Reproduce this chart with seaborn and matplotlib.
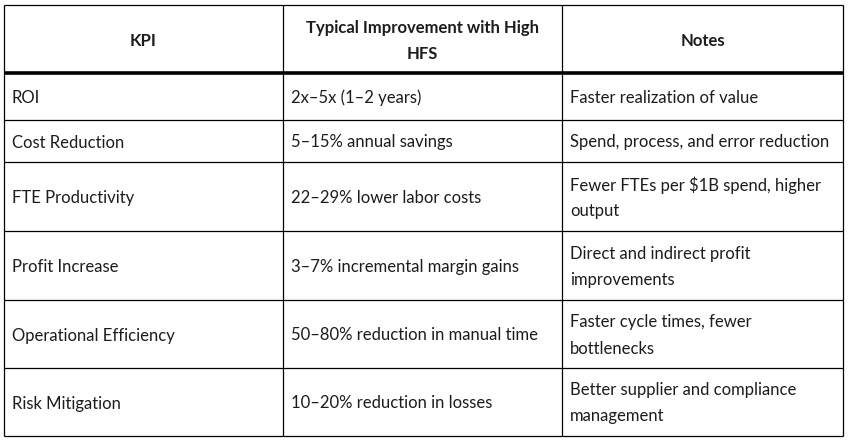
import matplotlib
matplotlib.use("Agg")
import matplotlib.pyplot as plt
import seaborn as sns

# table content
headers = [["KPI"], ["Typical Improvement with High", "HFS"], ["Notes"]]
kpi = ["ROI", "Cost Reduction", "FTE Productivity", "Profit Increase",
       "Operational Efficiency", "Risk Mitigation"]
improvement = ["2x\u20135x (1\u20132 years)", "5\u201315% annual savings",
               "22\u201329% lower labor costs", "3\u20137% incremental margin gains",
               "50\u201380% reduction in manual time", "10\u201320% reduction in losses"]
notes = [["Faster realization of value"],
         ["Spend, process, and error reduction"],
         ["Fewer FTEs per $1B spend, higher", "output"],
         ["Direct and indirect profit", "improvements"],
         ["Faster cycle times, fewer", "bottlenecks"],
         ["Better supplier and compliance", "management"]]

# layout in pixels
col_edges = [4, 283, 562, 843]
row_edges = [5, 73, 120, 162, 231, 300, 368, 436]
pad = 8
line_h = 26
y_shift = 1.5

sns.set_theme(style="white")
plt.rcParams['font.family'] = ['Lato', 'DejaVu Sans']

fig = plt.figure(figsize=(8.49, 4.43), dpi=100)
ax = fig.add_axes([0, 0, 1, 1])
ax.set_xlim(0, 849)
ax.set_ylim(443, 0)
ax.axis("off")

txt = "#1c1c1c"
fs = 12

# grid lines
ax.vlines(col_edges, row_edges[0], row_edges[-1], color="black", lw=0.9)
for i, y in enumerate(row_edges):
    ax.hlines(y, col_edges[0], col_edges[-1], color="black",
              lw=2.6 if i == 1 else 0.9)

def put_lines(lines, x, yc, **kw):
    n = len(lines)
    for k, s in enumerate(lines):
        y = yc + y_shift + (k - (n - 1) / 2) * line_h
        ax.text(x, y, s, va="center", fontsize=fs, color=txt, **kw)

# header
hy = (row_edges[0] + row_edges[1]) / 2
for j, h in enumerate(headers):
    xc = (col_edges[j] + col_edges[j + 1]) / 2
    put_lines(h, xc, hy, ha="center", fontweight="bold")

# body rows
for i in range(len(kpi)):
    yc = (row_edges[i + 1] + row_edges[i + 2]) / 2
    put_lines([kpi[i]], col_edges[0] + pad, yc, ha="left")
    put_lines([improvement[i]], col_edges[1] + pad, yc, ha="left")
    put_lines(notes[i], col_edges[2] + pad, yc, ha="left")

fig.savefig("out.png", dpi=100, facecolor="white")
